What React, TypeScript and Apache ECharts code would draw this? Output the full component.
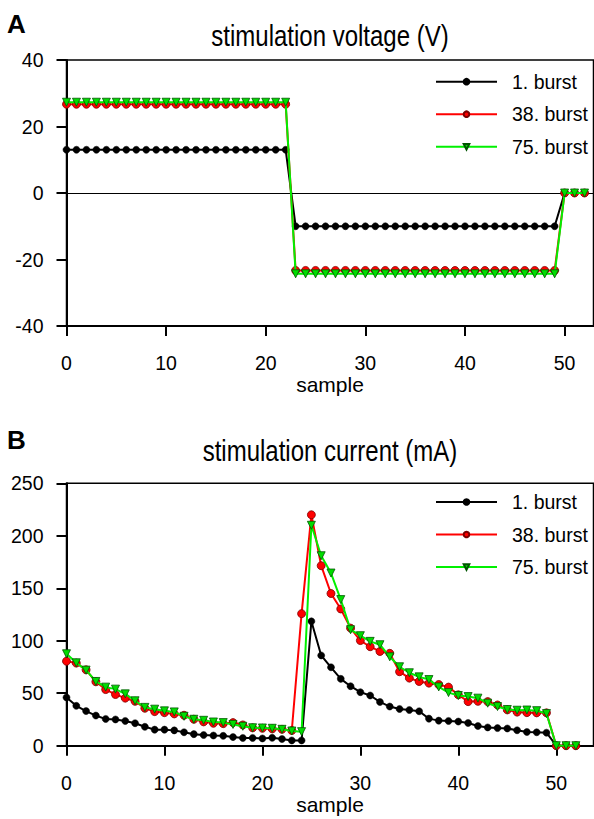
import React, { useEffect, useRef } from "react";
import * as echarts from "echarts";

const samples = [0,1,2,3,4,5,6,7,8,9,10,11,12,13,14,15,16,17,18,19,20,21,22,23,24,25,26,27,28,29,30,31,32,33,34,35,36,37,38,39,40,41,42,43,44,45,46,47,48,49,50,51,52];
const seriesNames = ["1. burst", "38. burst", "75. burst"];
const xTicks = [0, 10, 20, 30, 40, 50];

const voltage1 = [13,13,13,13,13,13,13,13,13,13,13,13,13,13,13,13,13,13,13,13,13,13,13,-10,-10,-10,-10,-10,-10,-10,-10,-10,-10,-10,-10,-10,-10,-10,-10,-10,-10,-10,-10,-10,-10,-10,-10,-10,-10,-10,0,0,0];
const voltage38 = [26.7,26.7,26.7,26.7,26.7,26.7,26.7,26.7,26.7,26.7,26.7,26.7,26.7,26.7,26.7,26.7,26.7,26.7,26.7,26.7,26.7,26.7,26.7,-23.3,-23.3,-23.3,-23.3,-23.3,-23.3,-23.3,-23.3,-23.3,-23.3,-23.3,-23.3,-23.3,-23.3,-23.3,-23.3,-23.3,-23.3,-23.3,-23.3,-23.3,-23.3,-23.3,-23.3,-23.3,-23.3,-23.3,0,0,0];
const voltage75 = [27.3,27.3,27.3,27.3,27.3,27.3,27.3,27.3,27.3,27.3,27.3,27.3,27.3,27.3,27.3,27.3,27.3,27.3,27.3,27.3,27.3,27.3,27.3,-24.3,-24.3,-24.3,-24.3,-24.3,-24.3,-24.3,-24.3,-24.3,-24.3,-24.3,-24.3,-24.3,-24.3,-24.3,-24.3,-24.3,-24.3,-24.3,-24.3,-24.3,-24.3,-24.3,-24.3,-24.3,-24.3,-24.3,0,0,0];

const current1 = [46,38,33,28.7,25.5,25,23.6,21.4,18,15.3,15.3,14.6,12.8,11,10.2,9.7,9.4,8.2,7.4,7.4,6.9,7.5,6.4,5,5,118.5,86,74.7,63.7,56.7,51,47.8,41.7,37.3,35,34,32.8,25.8,23.9,23.6,23,21.7,18.8,17.4,16.8,16.4,14.7,13.1,12.8,12.4,0,0,0];
const current38 = [80.5,78.7,72.3,60.9,53.5,48.8,45.3,42.3,35.7,32.5,31.5,30.3,29,25.2,22.7,21.4,21,22,19.8,17,16.6,16,15.6,14.5,125.8,220,171.5,145,130.3,112,100.2,94.3,89.8,88,70.5,64.4,61.2,59.6,58.3,55.8,48.5,42,42.3,42,38.8,34.1,32,31.5,31.3,31.3,0,0,0];
const current75 = [87.6,79,72,61.2,55.8,53.9,49.4,42.8,36.5,34.8,33.2,32.2,28,25.2,24.2,22.6,22,20.3,18.5,17.1,16.9,16.6,15.6,14,13.4,210,181,164.5,139.2,110.5,104.8,99.4,96.2,84.7,75.2,69.5,65.6,63,56,50.6,47.8,46.8,45.3,40.5,37.3,34.5,33.8,34,33.4,30.6,0,0,0];

const FONT = "'Liberation Sans', Arial, sans-serif";

const pairs = (vals: number[]) => samples.map((s, i) => [s, vals[i]]);

const styles = [
  {
    color: "#000000",
    symbol: "circle",
    symbolSize: 7,
    symbolRotate: 0,
    itemStyle: { color: "#000000", borderColor: "#000000", borderWidth: 0.5 },
  },
  {
    color: "#ff0000",
    symbol: "circle",
    symbolSize: 8,
    symbolRotate: 0,
    itemStyle: { color: "#ff0000", borderColor: "#7a0000", borderWidth: 0.8 },
  },
  {
    color: "#00f000",
    symbol: "triangle",
    symbolSize: 8,
    symbolRotate: 180,
    itemStyle: { color: "#00dd00", borderColor: "#005500", borderWidth: 0.8 },
  },
];

function makeSeries(name: string, vals: number[], k: number, idx: number, extra: any = {}) {
  const st = styles[k];
  return {
    type: "line",
    name,
    xAxisIndex: idx,
    yAxisIndex: idx,
    data: pairs(vals),
    symbol: st.symbol,
    symbolSize: st.symbolSize,
    symbolRotate: st.symbolRotate,
    showAllSymbol: true,
    lineStyle: { color: st.color, width: 2 },
    itemStyle: st.itemStyle,
    z: 3 + k,
    ...extra,
  };
}

function xAxis(idx: number, max: number) {
  return {
    type: "value",
    gridIndex: idx,
    min: 0,
    max,
    interval: 10,
    name: "sample",
    nameLocation: "middle",
    nameGap: 48,
    nameTextStyle: { fontFamily: FONT, fontSize: 21, color: "#000" },
    axisLine: { onZero: false, lineStyle: { color: "#000", width: 2 } },
    axisTick: { show: true, length: 10, lineStyle: { color: "#000", width: 2 }, customValues: xTicks },
    axisLabel: { margin: 27, fontFamily: FONT, fontSize: 19.5, color: "#000", customValues: xTicks },
    splitLine: { show: false },
  };
}

function yAxis(idx: number, min: number, max: number, interval: number) {
  return {
    type: "value",
    gridIndex: idx,
    min,
    max,
    interval,
    axisLine: { show: true, onZero: false, lineStyle: { color: "#000", width: 2 } },
    axisTick: { show: true, length: 10, lineStyle: { color: "#000", width: 2 } },
    axisLabel: { margin: 23, fontFamily: FONT, fontSize: 19.5, color: "#000" },
    splitLine: { show: false },
  };
}

function legend(top: number) {
  return {
    orient: "vertical",
    left: 435,
    top,
    padding: 0,
    itemWidth: 61,
    itemHeight: 7,
    itemGap: 12.5,
    data: seriesNames,
    textStyle: { fontFamily: FONT, fontSize: 19.5, color: "#000", lineHeight: 20, padding: [0, 0, 0, 10] },
  };
}

export default function App() {
  const ref = useRef<HTMLDivElement>(null);
  useEffect(() => {
    document.body.style.margin = "0";
    if (!ref.current) return;
    const chart = echarts.init(ref.current, null, { renderer: "svg" });
    const option: any = {
      animation: false,
      backgroundColor: "#ffffff",
      grid: [
        { left: 66.5, top: 60, width: 527, height: 266, show: true, borderColor: "#000", borderWidth: 1.5, backgroundColor: "transparent" },
        { left: 66.5, top: 483.3, width: 527, height: 262.4, show: true, borderColor: "#000", borderWidth: 1.5, backgroundColor: "transparent" },
      ],
      xAxis: [xAxis(0, 52.9), xAxis(1, 53.8)],
      yAxis: [yAxis(0, -40, 40, 20), yAxis(1, 0, 250, 50)],
      legend: [legend(71.7), legend(492)],
      graphic: [
        { type: "text", x: 7, y: 24, style: { text: "A", fontFamily: FONT, fontSize: 26, fontWeight: "bold", fill: "#000", align: "left", verticalAlign: "middle" } },
        { type: "text", x: 330, y: 51, scaleY: 1.25, style: { text: "stimulation voltage (V)", fontFamily: FONT, fontSize: 24, fill: "#000", align: "center", verticalAlign: "bottom" } },
        { type: "text", x: 7, y: 440, style: { text: "B", fontFamily: FONT, fontSize: 26, fontWeight: "bold", fill: "#000", align: "left", verticalAlign: "middle" } },
        { type: "text", x: 330, y: 466, scaleY: 1.25, style: { text: "stimulation current (mA)", fontFamily: FONT, fontSize: 24, fill: "#000", align: "center", verticalAlign: "bottom" } },
      ],
      series: [
        makeSeries(seriesNames[0], voltage1, 0, 0, {
          markLine: {
            silent: true,
            symbol: ["none", "none"],
            label: { show: false },
            lineStyle: { color: "#000", width: 1, type: "solid" },
            data: [{ yAxis: 0 }],
            z: 1,
          },
        }),
        makeSeries(seriesNames[1], voltage38, 1, 0),
        makeSeries(seriesNames[2], voltage75, 2, 0),
        makeSeries(seriesNames[0], current1, 0, 1),
        makeSeries(seriesNames[1], current38, 1, 1),
        makeSeries(seriesNames[2], current75, 2, 1),
      ],
    };
    chart.setOption(option);
    return () => chart.dispose();
  }, []);
  return <div ref={ref} style={{ width: 594, height: 819 }} />;
}
